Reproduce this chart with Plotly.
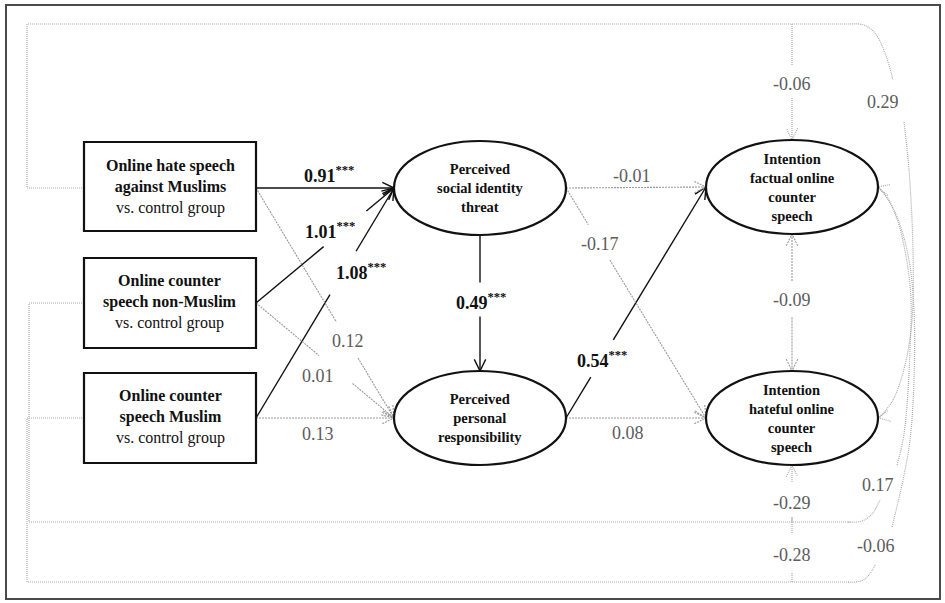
import numpy as np
import plotly.graph_objects as go

# ---------------- data ----------------
predictor_titles = ["Online hate speech<br>against Muslims",
                    "Online counter<br>speech non-Muslim",
                    "Online counter<br>speech Muslim"]
predictor_sub = "vs. control group"
mediator_titles = ["Perceived<br>social identity<br>threat",
                   "Perceived<br>personal<br>responsibility"]
outcome_titles = ["Intention<br>factual online<br>counter<br>speech",
                  "Intention<br>hateful online<br>counter<br>speech"]

# path coefficients (predictors -> mediators)
x_to_m1 = [0.91, 1.01, 1.08]
x_to_m1_sig = ["***", "***", "***"]
x_to_m2 = [0.12, 0.01, 0.13]
x_to_m2_sig = ["", "", ""]
m1_to_m2 = 0.49
m1_to_m2_sig = "***"
# mediators -> outcomes
m1_to_y = [-0.01, -0.17]
m1_to_y_sig = ["", ""]
m2_to_y = [0.54, 0.08]
m2_to_y_sig = ["***", ""]
y1_y2 = -0.09
# predictors -> outcomes (direct effects)
x_to_y1 = [-0.06, 0.17, -0.06]
x_to_y2 = [0.29, -0.29, -0.28]

# ---------------- layout geometry (pixels) ----------------
W, H = 945, 603
BOX_X0, BOX_X1 = 84, 256
BOX_Y = [(142, 231), (258, 348), (373, 463)]
BOX_PORT_Y = [188, 303, 418]
ELL = {"m1": (480, 188), "m2": (480, 418), "y1": (792, 187), "y2": (792, 418)}
RX, RY = 86, 47

BLACK = "#111111"
GRAY_LINE = "#999999"
FRAME_LINE = "#ababab"
GRAY_TXT = "#5c5c5c"
FONT = "Liberation Serif, Times New Roman, serif"

fig = go.Figure()
shapes = []
annotations = []


def fmt(v, sig=""):
    s = f"{v:.2f}"
    if sig:
        return f"<b>{s}<sup>{sig}</sup></b>"
    return s


def label(x, y, text, bold=False, size=18):
    annotations.append(dict(x=x, y=y, text=text, showarrow=False,
                            xanchor="center", yanchor="middle",
                            font=dict(family=FONT, size=size,
                                      color=BLACK if bold else GRAY_TXT)))


line_sets = {"black": ([], []), "gray": ([], []), "frame": ([], [])}


def add_seg(kind, pts):
    xs, ys = line_sets[kind]
    for p in pts:
        xs.append(p[0]); ys.append(p[1])
    xs.append(None); ys.append(None)


def straight(kind, p0, p1, gaps=()):
    p0 = np.array(p0, float); p1 = np.array(p1, float)
    ts = [0.0]
    for a, b in gaps:
        ts += [a, b]
    ts.append(1.0)
    for i in range(0, len(ts), 2):
        a, b = ts[i], ts[i + 1]
        add_seg(kind, [p0 + (p1 - p0) * a, p0 + (p1 - p0) * b])


def head(kind, tip, d, L=13, ang=26):
    d = np.array(d, float); d /= np.linalg.norm(d)
    tip = np.array(tip, float)
    out = []
    for s in (1, -1):
        a = np.radians(ang) * s
        r = np.array([d[0] * np.cos(a) - d[1] * np.sin(a),
                      d[0] * np.sin(a) + d[1] * np.cos(a)])
        out.append(tip - r * L)
    add_seg(kind, [out[0], tip, out[1]])


def arrow(kind, p0, p1, gaps=()):
    straight(kind, p0, p1, gaps)
    head(kind, p1, np.array(p1, float) - np.array(p0, float))


def kind_of(sig):
    return "black" if sig else "gray"


# frame border
shapes.append(dict(type="rect", xref="x", yref="y", x0=6, y0=5, x1=940, y1=599,
                   line=dict(color="#4a4a4a", width=2)))

# boxes
for i, (y0, y1) in enumerate(BOX_Y):
    shapes.append(dict(type="rect", xref="x", yref="y", x0=BOX_X0, x1=BOX_X1,
                       y0=y0, y1=y1, line=dict(color=BLACK, width=2.2),
                       fillcolor="white", layer="above"))
    annotations.append(dict(x=(BOX_X0 + BOX_X1) / 2, y=BOX_PORT_Y[i] - 1,
                            text=f"<b>{predictor_titles[i]}</b><br>{predictor_sub}",
                            showarrow=False, xanchor="center", yanchor="middle",
                            font=dict(family=FONT, size=16, color=BLACK)))

# ellipses
for key, title in zip(["m1", "m2", "y1", "y2"], mediator_titles + outcome_titles):
    cx, cy = ELL[key]
    shapes.append(dict(type="circle", xref="x", yref="y", x0=cx - RX, x1=cx + RX,
                       y0=cy - RY, y1=cy + RY, line=dict(color=BLACK, width=2.2),
                       layer="above"))
    annotations.append(dict(x=cx, y=cy, text=f"<b>{title}</b>", showarrow=False,
                            xanchor="center", yanchor="middle",
                            font=dict(family=FONT, size=14.5, color=BLACK)))


def left(k):
    return (ELL[k][0] - RX, ELL[k][1])


def right(k):
    return (ELL[k][0] + RX, ELL[k][1])


def top(k):
    return (ELL[k][0], ELL[k][1] - RY)


def bottom(k):
    return (ELL[k][0], ELL[k][1] + RY)


ports = [(BOX_X1, y) for y in BOX_PORT_Y]

# predictors -> m1
m1_gaps = [(), [(0.49, 0.80)], [(0.536, 0.725)]]
m1_lab = [(329, 174), (330, 230), (361, 271)]
for i in range(3):
    arrow(kind_of(x_to_m1_sig[i]), ports[i], left("m1"), m1_gaps[i])
    label(*m1_lab[i], fmt(x_to_m1[i], x_to_m1_sig[i]), bold=bool(x_to_m1_sig[i]))

# predictors -> m2
m2_gaps = [[(0.583, 0.739)], [(0.457, 0.70)], ()]
m2_lab = [(348, 341), (318, 376), (318, 434)]
for i in range(3):
    arrow(kind_of(x_to_m2_sig[i]), ports[i], left("m2"), m2_gaps[i])
    label(*m2_lab[i], fmt(x_to_m2[i], x_to_m2_sig[i]), bold=bool(x_to_m2_sig[i]))

# m1 -> m2
arrow(kind_of(m1_to_m2_sig), bottom("m1"), top("m2"), [(0.35, 0.60)])
label(481, 301, fmt(m1_to_m2, m1_to_m2_sig), bold=True)

# m1 -> outcomes
arrow(kind_of(m1_to_y_sig[0]), right("m1"), left("y1"))
label(632, 176, fmt(m1_to_y[0], m1_to_y_sig[0]))
arrow(kind_of(m1_to_y_sig[1]), right("m1"), left("y2"), [(0.16, 0.313)])
label(600, 244, fmt(m1_to_y[1], m1_to_y_sig[1]))

# m2 -> outcomes
arrow(kind_of(m2_to_y_sig[0]), right("m2"), left("y1"), [(0.177, 0.338)])
label(602, 359, fmt(m2_to_y[0], m2_to_y_sig[0]), bold=True)
arrow(kind_of(m2_to_y_sig[1]), right("m2"), left("y2"))
label(628, 433, fmt(m2_to_y[1], m2_to_y_sig[1]))

# outcome covariance
straight("gray", bottom("y1"), top("y2"), [(0.35, 0.61)])
head("gray", bottom("y1"), (0, -1))
head("gray", top("y2"), (0, 1))
label(792, 300, fmt(y1_y2))

# ---- direct effects drawn around the frame ----
XL = [27, 29, 27]
YR = [24, 522, 582]
for i in range(3):
    add_seg("frame", [(BOX_X0, BOX_PORT_Y[i]), (XL[i], BOX_PORT_Y[i]),
                      (XL[i], YR[i]), (850, YR[i])])

# hate speech -> y1 (top branch)
add_seg("frame", [(792, 24), (792, 65)])
add_seg("frame", [(792, 98), top("y1")])
head("frame", top("y1"), (0, 1))
label(792, 84, fmt(x_to_y1[0]))

# non-Muslim -> y2 (bottom branch) and Muslim -> y2
add_seg("frame", [(792, 522), (792, 517)])
add_seg("frame", [(792, 482), bottom("y2")])
head("frame", bottom("y2"), (0, -1))
label(792, 503, fmt(x_to_y2[1]))
add_seg("frame", [(792, 582), (792, 573)])
add_seg("frame", [(792, 533), (792, 517)])
label(792, 555, fmt(x_to_y2[2]))

# right-side curves
curves = [
    [(850, 24), (864, 25), (875, 33), (885, 53), (893, 80)],
    [(904, 122), (909, 170), (913, 250), (912, 320), (905, 365), (893, 400), (879, 418)],
    [(848, 522), (862, 521), (872, 514), (880, 500)],
    [(897, 465), (903, 440), (907, 405), (910, 350), (911, 300), (907, 262), (898, 222), (888, 199), (879, 188)],
    [(848, 582), (861, 581), (869, 575), (875, 565)],
    [(892, 527), (903, 480), (910, 440), (914, 380), (914, 310), (909, 260), (899, 222), (888, 199), (879, 188)],
]
for c in curves:
    fig.add_trace(go.Scatter(x=[p[0] for p in c], y=[p[1] for p in c], mode="lines",
                             line=dict(color=FRAME_LINE, width=1.2, shape="spline",
                                       dash="1px,1px"),
                             hoverinfo="skip", showlegend=False))
head("frame", right("y1"), (-0.97, -0.25))
head("frame", right("y2"), (-1.0, 0.2))
label(883, 102, fmt(x_to_y2[0]))
label(878, 485, fmt(x_to_y1[1]))
label(876, 546, fmt(x_to_y1[2]))

styles = {"black": dict(color=BLACK, width=1.4),
          "gray": dict(color=GRAY_LINE, width=1.1, dash="2px,1px"),
          "frame": dict(color=FRAME_LINE, width=1.2, dash="1px,1px")}
for k, (xs, ys) in line_sets.items():
    fig.add_trace(go.Scatter(x=xs, y=ys, mode="lines", line=styles[k],
                             hoverinfo="skip", showlegend=False))

fig.update_layout(width=W, height=H, autosize=False,
                  margin=dict(l=0, r=0, t=0, b=0),
                  paper_bgcolor="white", plot_bgcolor="white",
                  xaxis=dict(range=[0, W], visible=False, fixedrange=True),
                  yaxis=dict(range=[H, 0], visible=False, fixedrange=True),
                  shapes=shapes, annotations=annotations, showlegend=False)
fig.write_html("out.html", config={"displayModeBar": False},
               post_script="document.body.style.margin='0';")
